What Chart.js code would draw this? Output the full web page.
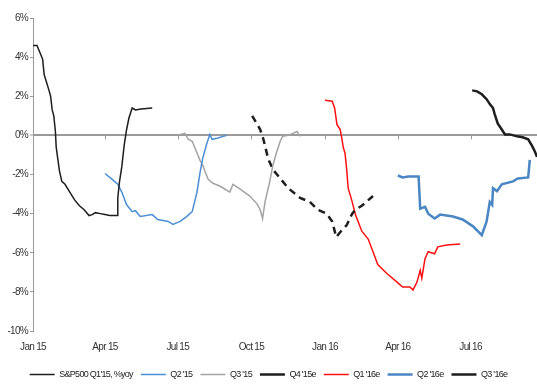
<!DOCTYPE html>
<html>
<head>
<meta charset="utf-8">
<script src="https://cdn.jsdelivr.net/npm/chart.js@4/dist/chart.umd.min.js"></script>
<style>
  html, body { margin: 0; padding: 0; background: #fff; overflow: hidden; }
  #wrap { width: 537px; height: 385px; }
</style>
</head>
<body>
<div id="wrap"><canvas id="chart" width="537" height="385"></canvas></div>
<script>
// x = days since 1 Jan 2015, y = % yoy
const quarterTicks = [0, 90, 181, 273, 365, 456, 547]
const quarterLabels = ['Jan 15', 'Apr 15', 'Jul 15', 'Oct 15', 'Jan 16', 'Apr 16', 'Jul 16']

const q115 = [[0,4.6],[5,4.6],[9,4.2],[12,3.9],[14,3.1],[17,2.7],[20,2.3],[22,2.0],[24,1.3],[26,1.0],[28,0.2],[29,-0.6],[31,-1.2],[33,-1.8],[36,-2.35],[40,-2.5],[46,-2.9],[52,-3.3],[58,-3.6],[64,-3.8],[70,-4.1],[74,-4.05],[78,-3.95],[84,-4.0],[90,-4.05],[96,-4.1],[105,-4.1],[106,-3.2],[108,-2.4],[111,-1.6],[114,-0.5],[117,0.3],[120,0.9],[124,1.4],[128,1.3],[135,1.35],[149,1.4]]
const q215 = [[90,-1.95],[99,-2.25],[106,-2.5],[111,-2.9],[117,-3.55],[124,-3.9],[128,-3.85],[134,-4.15],[149,-4.05],[156,-4.3],[169,-4.4],[175,-4.55],[184,-4.4],[192,-4.15],[199,-3.9],[205,-2.9],[209,-1.85],[212,-1.2],[217,-0.45],[221,0.05],[224,-0.2],[230,-0.15],[242,0]]
const q315 = [[184,0.05],[190,0.1],[194,-0.2],[199,-0.3],[205,-0.9],[209,-1.3],[212,-1.5],[215,-1.85],[219,-2.25],[225,-2.45],[234,-2.6],[246,-2.9],[250,-2.5],[259,-2.75],[271,-3.1],[280,-3.5],[284,-3.8],[287,-4.25],[290,-3.4],[296,-2.35],[300,-1.5],[305,-0.8],[309,-0.3],[312,-0.05],[319,0],[325,0.1],[330,0.2],[334,-0.05]]
const q415 = [[274,1.0],[284,0.3],[288,-0.2],[294,-1.2],[300,-1.75],[309,-2.2],[319,-2.7],[334,-3.2],[346,-3.4],[356,-3.8],[367,-4.0],[374,-4.4],[379,-5.2],[386,-4.85],[392,-4.6],[399,-4.0],[403,-3.8],[411,-3.6],[425,-3.1]]
const q116 = [[365,1.8],[374,1.75],[377,1.4],[380,0.55],[384,0.3],[386,-0.15],[388,-0.65],[390,-0.9],[392,-1.7],[394,-2.7],[399,-3.4],[403,-4.05],[411,-4.9],[419,-5.3],[425,-5.95],[431,-6.6],[442,-7.05],[455,-7.5],[462,-7.75],[471,-7.75],[475,-7.9],[480,-7.5],[484,-6.9],[486,-7.3],[490,-6.3],[494,-5.95],[502,-6.05],[506,-5.7],[517,-5.6],[534,-5.55]]
const q216 = [[456,-2.05],[462,-2.15],[469,-2.1],[482,-2.1],[484,-3.75],[490,-3.65],[494,-4.0],[502,-4.25],[509,-4.05],[525,-4.15],[537,-4.3],[550,-4.65],[561,-5.1],[567,-4.4],[571,-3.4],[574,-3.55],[575,-2.7],[580,-2.85],[586,-2.5],[600,-2.35],[606,-2.2],[619,-2.15],[621,-1.25]]
const q316 = [[549,2.3],[555,2.25],[561,2.1],[567,1.85],[571,1.6],[575,1.4],[577,1.1],[581,0.6],[586,0.3],[590,0.05],[596,0.05],[605,-0.05],[612,-0.1],[619,-0.2],[624,-0.55],[627,-0.8],[630,-1.1]]

const pts = arr => arr.map(p => ({ x: p[0], y: p[1] }))
const font = "'Liberation Sans', Arial, sans-serif"

const line = (label, data, color, width, dash) => ({
  label: label,
  data: pts(data),
  borderColor: color,
  backgroundColor: color,
  borderWidth: width,
  borderDash: dash || [],
  pointRadius: 0,
  pointStyle: 'line',
  tension: 0,
  fill: false,
})

// the source uses a narrow typeface, squeeze the letters a bit
const narrowText = {
  id: 'narrowText',
  beforeUpdate(chart) { chart.ctx.letterSpacing = '-0.7px' },
  beforeDraw(chart) { chart.ctx.letterSpacing = '-0.7px' },
}

// small tick marks hanging under the 0% line
const zeroTicks = {
  id: 'zeroTicks',
  afterDatasetsDraw(chart) {
    const { ctx, scales } = chart
    const y0 = scales.y.getPixelForValue(0)
    ctx.save()
    ctx.strokeStyle = '#9a9a9a'
    ctx.lineWidth = 1
    quarterTicks.concat([630]).forEach(v => {
      const x = Math.round(scales.x.getPixelForValue(v)) + 0.5
      ctx.beginPath()
      ctx.moveTo(x, y0)
      ctx.lineTo(x, y0 + 4)
      ctx.stroke()
    })
    ctx.restore()
  },
}

new Chart(document.getElementById('chart'), {
  type: 'line',
  data: {
    datasets: [
      line("S&P500 Q1'15, %yoy", q115, '#1e1e1e', 1.5),
      line("Q2 '15", q215, '#4b8fd4', 1.5),
      line("Q3 '15", q315, '#a3a3a3', 1.5),
      line("Q4 '15e", q415, '#1e1e1e', 2.5, [7, 5]),
      line("Q1 '16e", q116, '#ff1010', 1.5),
      line("Q2 '16e", q216, '#4a86c4', 2.5),
      line("Q3 '16e", q316, '#1e1e1e', 2.5),
    ],
  },
  options: {
    responsive: false,
    animation: false,
    layout: { padding: { top: 18, right: 0, bottom: -4, left: 0 } },
    plugins: {
      tooltip: { enabled: false },
      legend: {
        position: 'bottom',
        labels: {
          usePointStyle: true,
          pointStyleWidth: 25,
          boxHeight: 9,
          padding: 8,
          color: '#222',
          font: { family: font, size: 9 },
        },
      },
    },
    scales: {
      x: {
        type: 'linear',
        min: 0,
        max: 630,
        afterBuildTicks: scale => { scale.ticks = quarterTicks.map(v => ({ value: v })) },
        afterFit: scale => { scale.height = 31 },
        grid: { display: false, drawTicks: false },
        border: { display: false },
        ticks: {
          autoSkip: false,
          maxRotation: 0,
          padding: 10,
          color: '#333',
          font: { family: font, size: 10 },
          callback: v => quarterLabels[quarterTicks.indexOf(v)],
        },
      },
      y: {
        min: -10,
        max: 6,
        afterFit: scale => { scale.width = 33 },
        grid: {
          color: c => (c.tick && c.tick.value === 0 ? '#9a9a9a' : 'rgba(0,0,0,0)'),
          lineWidth: c => (c.tick && c.tick.value === 0 ? 2 : 1),
          tickColor: '#9a9a9a',
          tickWidth: 1,
          tickLength: 3,
        },
        border: { display: true, color: '#9a9a9a', width: 1 },
        ticks: {
          stepSize: 2,
          padding: 2,
          color: '#333',
          font: { family: font, size: 10 },
          callback: v => v + '%',
        },
      },
    },
  },
  plugins: [narrowText, zeroTicks],
})
</script>
</body>
</html>
